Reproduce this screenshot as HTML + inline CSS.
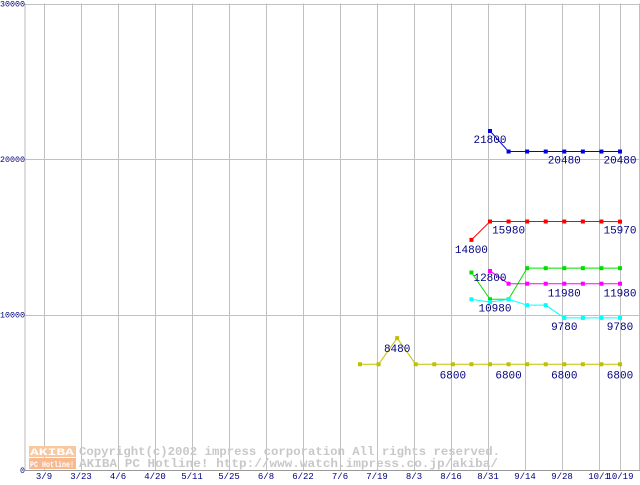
<!DOCTYPE html>
<html><head><meta charset="utf-8"><style>
body{margin:0;background:#fff;width:640px;height:480px;overflow:hidden}
svg text{font-family:"Liberation Mono","DejaVu Sans Mono",monospace}
</style></head><body>
<svg id="c" width="640" height="480" xmlns="http://www.w3.org/2000/svg"></svg>
<script>
const xLabels=["3/9","3/23","4/6","4/20","5/11","5/25","6/8","6/22","7/6","7/19","8/3","8/16","8/31","9/14","9/28","10/1","10/19"];
const yTicks=[0,10000,20000,30000];
const yellowVals=[6800,6800,8480,6800,6800,6800,6800,6800,6800,6800,6800,6800,6800,6800,6800];
const blueVals=[null,null,null,null,null,null,null,21800,20480,20480,20480,20480,20480,20480,20480];
const redVals=[null,null,null,null,null,null,14800,15980,15980,15980,15980,15980,15980,15980,15970];
const greenVals=[null,null,null,null,null,null,12700,10980,10980,12980,12980,12980,12980,12980,12980];
const magentaVals=[null,null,null,null,null,null,null,12800,11980,11980,11980,11980,11980,11980,11980];
const cyanVals=[null,null,null,null,null,null,10980,10800,10980,10600,10600,9780,9780,9780,9780];
const priceLabels=[
 {i:7,v:21800,t:"21800",dy:-12,dx:0},{i:11,v:20480,t:"20480",dy:-12,dx:0},{i:14,v:20480,t:"20480",dy:-12,dx:0},
 {i:8,v:15980,t:"15980",dy:-12,dx:0},{i:14,v:15970,t:"15970",dy:-12,dx:0},{i:6,v:14800,t:"14800",dy:-13,dx:0},
 {i:7,v:12800,t:"12800",dy:-10,dx:0},{i:7,v:10980,t:"10980",dy:-12,dx:5},
 {i:11,v:11980,t:"11980",dy:-13,dx:0},{i:14,v:11980,t:"11980",dy:-13,dx:0},
 {i:11,v:9780,t:"9780",dy:-12,dx:0},{i:14,v:9780,t:"9780",dy:-12,dx:0},
 {i:2,v:8480,t:"8480",dy:-14,dx:0},
 {i:5,v:6800,t:"6800",dy:-14,dx:0},{i:8,v:6800,t:"6800",dy:-14,dx:0},{i:11,v:6800,t:"6800",dy:-14,dx:0},{i:14,v:6800,t:"6800",dy:-14,dx:0}];
const NS="http://www.w3.org/2000/svg",svg=document.getElementById("c");
function y(v){return 470-v*(466.5/30000);}
function xp(i){return 360+i*(260/14);}
function gx(k){return k<16?44+37*k:620;}
function mk(tag,attrs,parent){const e=document.createElementNS(NS,tag);for(const k in attrs)e.setAttribute(k,attrs[k]);(parent||svg).appendChild(e);return e;}
let a=mk("line",{x1:25,y1:3.5,x2:25,y2:470,stroke:"#bbb"});


xLabels.forEach((l,k)=>{
 const g=mk("line",{x1:gx(k)+.5,y1:3.5,x2:gx(k)+.5,y2:470,stroke:"#c0c0c0"});
 
 
 const t=mk("text",{x:gx(k),y:479,"text-anchor":"middle","font-size":"9",fill:"#000080"});
 t.textContent=l;
 
 
});
let rl=mk("line",{x1:639.5,y1:3.5,x2:639.5,y2:470,stroke:"#c0c0c0"});


yTicks.forEach(v=>{
 const g=mk("line",{x1:25,y1:Math.round(y(v))+.5,x2:640,y2:Math.round(y(v))+.5,stroke:v==0?"#999":"#c0c0c0"});
 
 
 const s=String(v);
 const t=mk("text",{x:25-s.length*5,y:y(v)+3,"font-size":"8",fill:"#000080",textLength:s.length*5,lengthAdjust:"spacingAndGlyphs"});
 t.textContent=s;
 
 
});
const wm=mk("g",{});


mk("rect",{x:29,y:446,width:47,height:11,fill:"#f8c8a0"},wm);
mk("rect",{x:29,y:458,width:47,height:11,fill:"#f8b890"},wm);
let w1=mk("text",{x:52,y:455,"text-anchor":"middle","font-size":"10","font-weight":"bold",fill:"#fff",textLength:44,lengthAdjust:"spacingAndGlyphs"},wm);w1.textContent="AKIBA";
let w2=mk("text",{x:52,y:467,"text-anchor":"middle","font-size":"8","font-weight":"bold",fill:"#fff",textLength:44,lengthAdjust:"spacingAndGlyphs"},wm);w2.textContent="PC Hotline!";
let w3=mk("text",{x:79,y:455,"font-size":"12","font-weight":"bold",fill:"#c8c8c8",textLength:421,lengthAdjust:"spacingAndGlyphs"},wm);w3.textContent="Copyright(c)2002 impress corporation All rights reserved.";
let w4=mk("text",{x:79,y:467,"font-size":"12","font-weight":"bold",fill:"#c8c8c8",textLength:419,lengthAdjust:"spacingAndGlyphs"},wm);w4.textContent="AKIBA PC Hotline!  http://www.watch.impress.co.jp/akiba/";
const series=[["yellow",yellowVals,"#c0c000"],["blue",blueVals,"#0000e0"],["red",redVals,"#ff0000"],["green",greenVals,"#00e000"],["magenta",magentaVals,"#ff00ff"],["cyan",cyanVals,"#00ffff"]];
series.forEach(([n,vals,c])=>{
 let pts=[];vals.forEach((v,i)=>{if(v!=null)pts.push([xp(i),y(v)]);});
 const pl=mk("polyline",{points:pts.map(p=>p.join(",")).join(" "),fill:"none",stroke:c,"stroke-width":"1"});
 
 
 pts.forEach(p=>{
  const r=mk("rect",{x:p[0]-2,y:p[1]-2,width:4,height:4,fill:c});
  
  
 });
});
priceLabels.forEach(l=>{
 const t=mk("text",{x:xp(l.i)+l.dx,y:y(l.v)-l.dy,"text-anchor":"middle","font-size":"11",fill:"#000080"});
 t.textContent=l.t;
 
 
});
</script>
</body></html>
